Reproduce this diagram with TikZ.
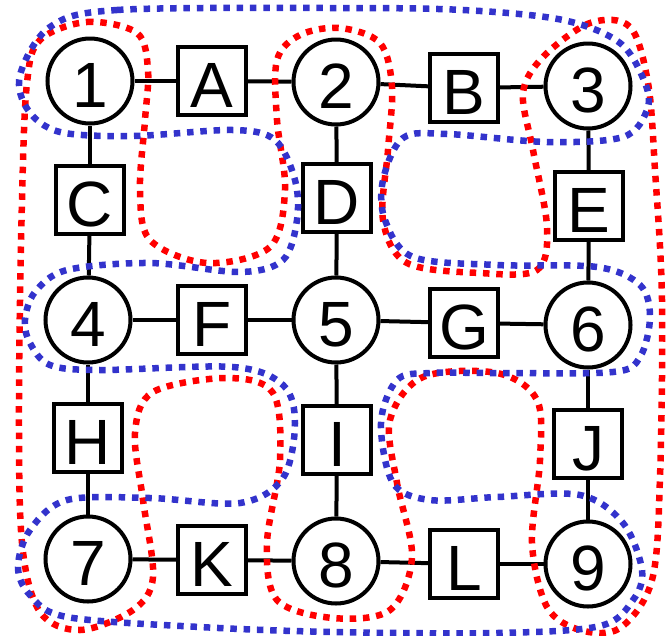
\documentclass[tikz,border=0pt]{standalone}
\usepackage{fontspec}
\setmainfont{Liberation Sans}
\definecolor{cred}{RGB}{255,0,0}
\definecolor{cblue}{RGB}{51,51,204}
\begin{document}
\begin{tikzpicture}[x=1pt,y=-1pt,
  lbl/.style={font=\fontsize{64}{64}\selectfont,text height=52pt,text depth=0pt},
  circ/.style={lbl,circle,draw,line width=4pt,minimum size=85pt,inner sep=0pt},
  sq/.style={lbl,rectangle,draw,line width=4pt,minimum size=68pt,inner sep=0pt},
  edge/.style={line width=4pt},
  dots/.style={line width=6.5pt,dash pattern=on 6.5pt off 6.8pt}]
\useasboundingbox (0,0) rectangle (671,635);
% nodes
\node[circ] (n1) at (90,81) {1};
\node[circ] (n2) at (336,82) {2};
\node[circ] (n3) at (588,86) {3};
\node[circ] (n4) at (88,320) {4};
\node[circ] (n5) at (336,320) {5};
\node[circ] (n6) at (588,325) {6};
\node[circ] (n7) at (88,559) {7};
\node[circ] (n8) at (336,561) {8};
\node[circ] (n9) at (588,564) {9};
\node[sq] (A) at (212,81) {A};
\node[sq] (B) at (464,88) {B};
\node[sq] (C) at (90,200) {C};
\node[sq] (D) at (337,198) {D};
\node[sq] (E) at (589,206) {E};
\node[sq] (F) at (212,320) {F};
\node[sq] (G) at (464,323) {G};
\node[sq] (H) at (88,438) {H};
\node[sq] (I) at (337,440) {I};
\node[sq] (J) at (588,444) {J};
\node[sq] (K) at (212,560) {K};
\node[sq] (L) at (464,564) {L};
% edges
\foreach \a/\b in {n1/A,A/n2,n2/B,B/n3,n1/C,C/n4,n2/D,D/n5,n3/E,E/n6,n4/F,F/n5,n5/G,G/n6,n4/H,H/n7,n5/I,I/n8,n6/J,J/n9,n7/K,K/n8,n8/L,L/n9}
  \draw[edge] (\a) -- (\b);
% red serpentine
\draw[dots,cred] plot[smooth cycle,tension=0.55] coordinates {
(40,40) (87,22) (137,33) (148,70) (145,120) (140,190) (150,240) (207,263) (270,247) (285,190) (277,120) (277,60) (300,35) (340,28) (380,43) (392,87) (388,150) (383,220) (407,263) (480,273) (537,270) (547,227) (533,150) (523,93) (543,57) (590,23) (630,27) (648,83) (655,170) (662,300) (660,477) (652,580) (620,628) (580,630) (547,607) (532,543) (540,460) (537,400) (497,373) (423,377) (390,420) (397,483) (412,557) (390,610) (333,618) (277,600) (267,543) (280,460) (273,393) (227,378) (153,392) (135,433) (143,500) (153,577) (133,610) (80,630) (40,612) (22,543) (19,400) (22,200) (27,83)};
% blue serpentine
\draw[dots,cblue] plot[smooth cycle,tension=0.55] coordinates {
(50,27) (117,10) (333,8) (463,10) (563,20) (620,43) (645,83) (647,110) (623,137) (547,142) (447,134) (403,138) (383,180) (385,220) (413,257) (497,265) (597,267) (640,285) (650,317) (640,357) (613,372) (497,373) (430,373) (397,380) (381,423) (393,483) (430,500) (497,497) (580,495) (623,523) (642,570) (633,600) (600,626) (497,633) (333,632) (200,627) (67,617) (30,595) (18,567) (30,530) (67,500) (150,498) (240,503) (283,478) (295,423) (283,385) (233,367) (100,370) (50,365) (30,343) (25,320) (35,292) (67,270) (150,263) (240,272) (283,260) (297,220) (295,180) (275,140) (233,130) (133,136) (60,132) (28,110) (20,75)};
\end{tikzpicture}
\end{document}
